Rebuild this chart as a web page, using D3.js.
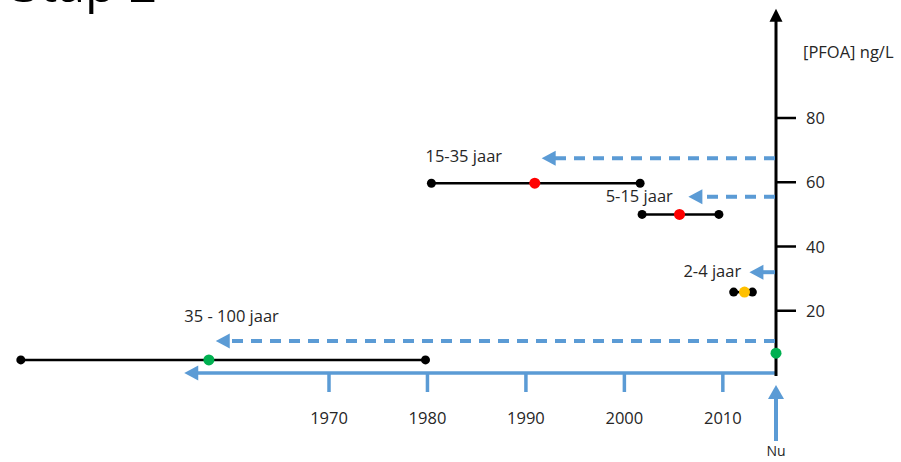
<!DOCTYPE html>
<meta charset="utf-8">
<style>
body { margin: 0; background: #fff; }
text { font-family: "Open Sans", sans-serif; fill: #262626; }
</style>
<body>
<script src="https://cdn.jsdelivr.net/npm/d3@7/dist/d3.min.js"></script>
<script>
// chart values
var yearTicks = [1970, 1980, 1990, 2000, 2010];
var concTicks = [20, 40, 60, 80];
var rangeLabels = ["35 - 100 jaar", "15-35 jaar", "5-15 jaar", "2-4 jaar"];
var rangeStart = [1938.7, 1980.4, 2001.8, 2011.1];
var rangeEnd = [1979.8, 2001.6, 2009.6, 2013.0];
var rangeMid = [1957.8, 1990.9, 2005.6, 2012.2];
var rangeConc = [4.7, 59.7, 50, 25.8];
var arrowTip = [1958.5, 1991.6, 2006.5, 2012.7];
var arrowConc = [10.6, 67.5, 55.5, 32];
var arrowDashed = [true, true, true, false];
var labelYear = [1955.3, 1979.8, 1998.1, 2006];
var labelConc = [16.5, 66.2, 54, 30.4];
var nowYear = 2015.4, nowConc = 6.8;
var axisStartYear = 1955.3, concTop = 114;

var midColors = ["#00b050", "#ff0000", "#ff0000", "#ffc000"];
var blue = "#5b9bd5";

var width = 901, height = 462;
var svg = d3.select("body").append("svg").attr("width", width).attr("height", height);

var x = d3.scaleLinear().domain([1970, 2015.4]).range([329, 776]);
var y = d3.scaleLinear().domain([0, 80]).range([375, 118]);

function arrowHead(tx, ty, dir, len, half, color) {
  var p;
  if (dir == "left") p = [[tx, ty], [tx + len, ty - half], [tx + len, ty + half]];
  else p = [[tx, ty], [tx - half, ty + len], [tx + half, ty + len]];
  svg.append("path").attr("d", "M" + p.join("L") + "Z").attr("fill", color);
}

// title (cut off at the top in the original too)
svg.append("text").text("Stap 2")
  .attr("x", 12).attr("y", 2)
  .attr("font-size", 50).style("fill", "#000");

// time axis (blue, pointing left)
svg.append("line")
  .attr("x1", x(nowYear)).attr("x2", x(axisStartYear) + 12)
  .attr("y1", 373).attr("y2", 373)
  .attr("stroke", blue).attr("stroke-width", 3.5);
arrowHead(x(axisStartYear), 373, "left", 14, 7.5, blue);

svg.selectAll(".xtick").data(yearTicks).enter().append("line")
  .attr("x1", d => x(d)).attr("x2", d => x(d))
  .attr("y1", 373).attr("y2", 392)
  .attr("stroke", blue).attr("stroke-width", 3.5);
svg.selectAll(".xlab").data(yearTicks).enter().append("text")
  .text(d => d)
  .attr("x", d => x(d)).attr("y", 424)
  .attr("text-anchor", "middle").attr("font-size", 16.5);

// "Nu" arrow
svg.append("line")
  .attr("x1", x(nowYear)).attr("x2", x(nowYear))
  .attr("y1", 441).attr("y2", 396)
  .attr("stroke", blue).attr("stroke-width", 4);
arrowHead(x(nowYear), 385, "up", 14, 8, blue);
svg.append("text").text("Nu")
  .attr("x", x(nowYear)).attr("y", 456)
  .attr("text-anchor", "middle").attr("font-size", 14);

// concentration axis (black, pointing up)
svg.append("line")
  .attr("x1", x(nowYear)).attr("x2", x(nowYear))
  .attr("y1", y(0) + 1).attr("y2", y(concTop) + 10)
  .attr("stroke", "#000").attr("stroke-width", 3);
arrowHead(x(nowYear), y(concTop), "up", 13, 6.5, "#000");

svg.selectAll(".ytick").data(concTicks).enter().append("line")
  .attr("x1", x(nowYear)).attr("x2", x(nowYear) + 20)
  .attr("y1", d => y(d)).attr("y2", d => y(d))
  .attr("stroke", "#000").attr("stroke-width", 2.5);
svg.selectAll(".ylab").data(concTicks).enter().append("text")
  .text(d => d)
  .attr("x", 806).attr("y", d => y(d) + 6)
  .attr("font-size", 16.5);
svg.append("text").text("[PFOA] ng/L")
  .attr("x", 803).attr("y", 58).attr("font-size", 16.5);

// dashed / solid arrows from the now-axis
rangeLabels.forEach(function (lab, i) {
  var tx = x(arrowTip[i]), ty = y(arrowConc[i]);
  svg.append("line")
    .attr("x1", x(nowYear) - 1).attr("x2", tx + 12)
    .attr("y1", ty).attr("y2", ty)
    .attr("stroke", blue).attr("stroke-width", 4)
    .attr("stroke-dasharray", arrowDashed[i] ? "11,8" : null);
  arrowHead(tx, ty, "left", 14, 7.5, blue);
});

// ranges with end dots and coloured middle dot
rangeLabels.forEach(function (lab, i) {
  var cy = y(rangeConc[i]);
  svg.append("line")
    .attr("x1", x(rangeStart[i])).attr("x2", x(rangeEnd[i]))
    .attr("y1", cy).attr("y2", cy)
    .attr("stroke", "#000").attr("stroke-width", 2.5);
  [rangeStart[i], rangeEnd[i]].forEach(function (yr) {
    svg.append("circle").attr("cx", x(yr)).attr("cy", cy).attr("r", 4.5).attr("fill", "#000");
  });
  svg.append("circle").attr("cx", x(rangeMid[i])).attr("cy", cy).attr("r", 5.5).attr("fill", midColors[i]);
  svg.append("text").text(lab)
    .attr("x", x(labelYear[i])).attr("y", y(labelConc[i]))
    .attr("font-size", 16.5);
});

// current concentration
svg.append("circle").attr("cx", x(nowYear)).attr("cy", y(nowConc)).attr("r", 5.5).attr("fill", "#00b050");
</script>
